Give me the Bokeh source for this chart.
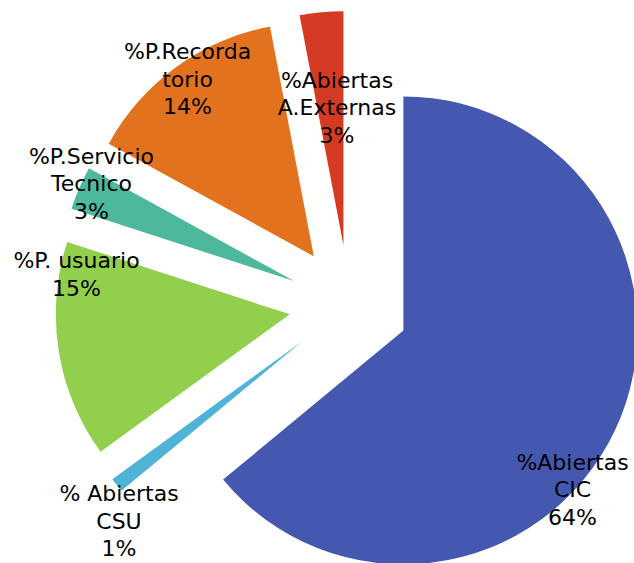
import numpy as np
from bokeh.plotting import figure
from bokeh.models import Range1d, ColumnDataSource
from bokeh.embed import file_html
from bokeh.resources import INLINE
from bokeh.core.properties import value

# ---------------- data ----------------
categories = ["%Abiertas CIC", "% Abiertas CSU", "%P. usuario",
              "%P.Servicio Tecnico", "%P.Recordatorio", "%Abiertas A.Externas"]
values = [64, 1, 15, 3, 14, 3]
label_lines = [["%Abiertas", "CIC"], ["% Abiertas", "CSU"], ["%P. usuario"],
               ["%P.Servicio", "Tecnico"], ["%P.Recorda", "torio"],
               ["%Abiertas", "A.Externas"]]
colors = ["#4558B0", "#4EB3D6", "#92CF4C", "#4EB89D", "#E2721D", "#D43B22"]

# ---------------- layout (picture pixels) ----------------
W, H = 634, 563
PAGE_H = 563
CX, CY = 348.6, 304.4          # pie centre
R = 234                        # pie radius
EXPLODE = 60                   # explosion distance
LINE_H = 27.5
FONT = "DejaVu Sans"
FONT_SIZE = "22px"
label_centres = [(572, 489), (118.5, 520.5), (76, 274), (91, 183),
                 (187, 78.7), (336.5, 107)]


def ydata(page_y):
    return PAGE_H - page_y


total = float(sum(values))
cum = np.concatenate([[0.0], np.cumsum(values)]) / total
a_end = np.pi / 2 - cum[:-1] * 2 * np.pi
a_start = np.pi / 2 - cum[1:] * 2 * np.pi
mid = (a_start + a_end) / 2

wx = CX + EXPLODE * np.cos(mid)
wy = ydata(CY) + EXPLODE * np.sin(mid)

src = ColumnDataSource(dict(x=wx, y=wy, start=a_start, end=a_end,
                            color=colors, name=categories))

p = figure(width=W, height=H, x_range=Range1d(0, W),
           y_range=Range1d(PAGE_H - H, PAGE_H),
           output_backend="svg", toolbar_location=None, min_border=0)
p.axis.visible = False
p.grid.visible = False
p.outline_line_color = None
p.background_fill_color = "white"
p.border_fill_color = "white"

p.wedge(x="x", y="y", radius=R, start_angle="start", end_angle="end",
        direction="anticlock", fill_color="color", line_color=None, source=src)

tx, ty, tt = [], [], []
for lines, v, (lx, ly) in zip(label_lines, values, label_centres):
    all_lines = lines + [f"{v}%"]
    n = len(all_lines)
    for i, t in enumerate(all_lines):
        tx.append(lx)
        ty.append(ydata(ly + (i - (n - 1) / 2) * LINE_H))
        tt.append(t)

p.text(x=tx, y=ty, text=tt, text_font=value(FONT), text_font_size=FONT_SIZE,
       text_align="center", text_baseline="middle", text_color="black")

open("out.html", "w").write(file_html(p, INLINE))
